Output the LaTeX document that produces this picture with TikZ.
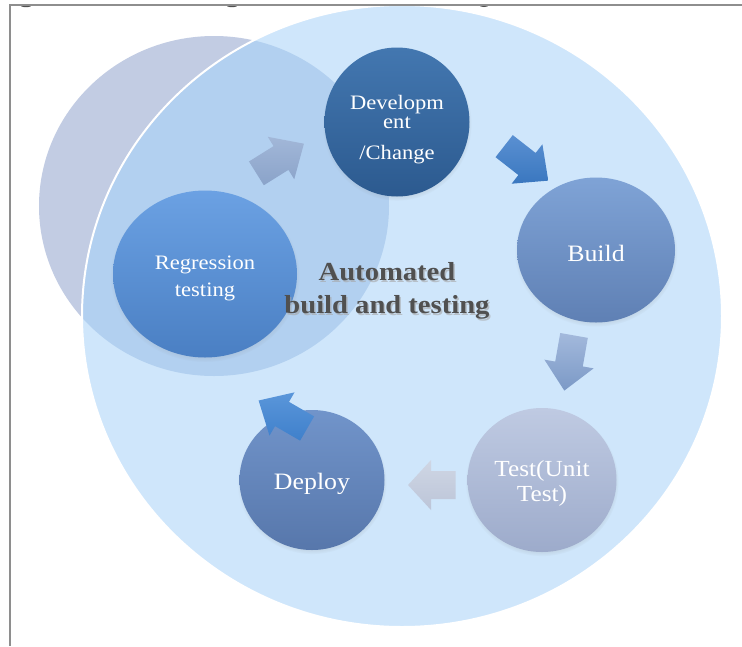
\documentclass[tikz,border=0pt]{standalone}
\usepackage{fontspec}
\setmainfont{Liberation Serif}[FakeStretch=1.1]
\usetikzlibrary{shapes.geometric,shadows,calc}

\definecolor{framegray}{HTML}{8E8E8E}
\definecolor{inkgray}{HTML}{505050}
\definecolor{outerblue}{HTML}{CFE6FB}
\definecolor{backgray}{HTML}{C2CCE3}
\definecolor{overlapblue}{HTML}{B2D0F0}
\definecolor{devtop}{HTML}{4377B0}
\definecolor{devbot}{HTML}{2C5A8F}
\definecolor{buildtop}{HTML}{7FA3D6}
\definecolor{buildbot}{HTML}{5F80B4}
\definecolor{testtop}{HTML}{BFCAE2}
\definecolor{testbot}{HTML}{9DABCB}
\definecolor{deploytop}{HTML}{7194CA}
\definecolor{deploybot}{HTML}{5777AB}
\definecolor{regtop}{HTML}{6BA1E3}
\definecolor{regbot}{HTML}{4A7FC3}
\definecolor{arrowAa}{HTML}{A2B7D8}
\definecolor{arrowAb}{HTML}{8AA3C9}
\definecolor{arrowBa}{HTML}{5A90D2}
\definecolor{arrowBb}{HTML}{3A77BF}
\definecolor{arrowCa}{HTML}{A3B9DC}
\definecolor{arrowCb}{HTML}{7B99C6}
\definecolor{arrowDa}{HTML}{CFD6E4}
\definecolor{arrowDb}{HTML}{BCC5D8}
\definecolor{arrowEa}{HTML}{5A96DA}
\definecolor{arrowEb}{HTML}{3F80CB}

\tikzset{
  stage/.style={ellipse, inner sep=0pt,
    circular drop shadow={shadow xshift=0pt, shadow yshift=-2pt,
      shadow scale=1.03, opacity=0.35}},
  stagetext/.style={text=white, align=center, inner sep=0pt},
  blockarrow/.pic={
    \path[pic actions] (-29,-14) -- (0,-14) -- (0,-25) -- (27,0)
      -- (0,25) -- (0,14) -- (-29,14) -- cycle;
  }
}

\begin{document}
\begin{tikzpicture}[x=1pt,y=-1pt]
\useasboundingbox (0,0) rectangle (742,646);
\fill[white] (0,0) rectangle (742,646);

% background discs: grey disc behind, large pale disc, and their overlap
\fill[backgray] (214,206) ellipse [x radius=175, y radius=170];
\fill[outerblue] (402,316) ellipse [x radius=320, y radius=311];
\begin{scope}
  \clip (214,206) ellipse [x radius=175, y radius=170];
  \fill[overlapblue] (402,316) ellipse [x radius=320, y radius=311];
\end{scope}
\draw[white, line width=2] (402,316) ellipse [x radius=320, y radius=311];

% frame and the clipped heading above it
\begin{scope}
  \clip (10,5) rectangle (742,12);
  \fill[inkgray] (26,5) ellipse [x radius=6, y radius=2.2];
  \fill[inkgray] (232,5) ellipse [x radius=6, y radius=2.2];
  \fill[inkgray] (484,5) ellipse [x radius=5, y radius=2];
\end{scope}
\draw[framegray, line width=1.2] (742,5) -- (10,5) -- (10,646);

% stages of the cycle
\node[stage, minimum width=145, minimum height=149,
  top color=devtop, bottom color=devbot] (dev) at (397,122) {};
\node[stagetext, font=\fontsize{20.5}{24}\selectfont] (devtext)
  at ($(dev.center)+(0,8)$) {Developm\\[-5pt]ent\\[7pt]/Change};

\node[stage, minimum width=158, minimum height=145,
  top color=buildtop, bottom color=buildbot] (build) at (596,250) {};
\node[stagetext, font=\fontsize{23.5}{27}\selectfont] (buildtext)
  at ($(build.center)+(0,3)$) {Build};

\node[stage, minimum width=149, minimum height=144,
  top color=testtop, bottom color=testbot] (test) at (542,480) {};
\node[stagetext, font=\fontsize{23}{25}\selectfont] (testtext)
  at ($(test.center)+(0,3)$) {Test(Unit\\Test)};

\node[stage, minimum width=145, minimum height=140,
  top color=deploytop, bottom color=deploybot] (deploy) at (312,480) {};
\node[stagetext, font=\fontsize{23.5}{27}\selectfont] (deploytext)
  at ($(deploy.center)+(0,4)$) {Deploy};

\node[stage, minimum width=184, minimum height=167,
  top color=regtop, bottom color=regbot] (reg) at (205,274) {};
\node[stagetext, font=\fontsize{20.5}{27}\selectfont] (regtext)
  at ($(reg.center)+(0,4)$) {Regression\\testing};

% caption in the middle, with a soft shadow
\node[text=gray!70, opacity=0.6, align=center, font=\bfseries\fontsize{26}{33}\selectfont]
  (hubshadow) at (388.5,292.5) {Automated\\build and testing};
\node[text=inkgray, align=center, font=\bfseries\fontsize{26}{33}\selectfont]
  (hub) at (387,291) {Automated\\build and testing};

% block arrows between the stages
\coordinate (a1) at (281,158);
\coordinate (a2) at (527,164);
\coordinate (a3) at (569,364);
\coordinate (a4) at (431,485);
\coordinate (a5) at (282,414);
\pic[rotate=32, top color=arrowAa, bottom color=arrowAb] at (a1) {blockarrow};
\pic[rotate=-38, top color=arrowBa, bottom color=arrowBb] at (a2) {blockarrow};
\pic[rotate=-100, top color=arrowCa, bottom color=arrowCb] at (a3) {blockarrow};
\pic[rotate=180, xscale=0.85, top color=arrowDa, bottom color=arrowDb] at (a4) {blockarrow};
\pic[rotate=150, top color=arrowEa, bottom color=arrowEb] at (a5) {blockarrow};
\end{tikzpicture}
\end{document}
